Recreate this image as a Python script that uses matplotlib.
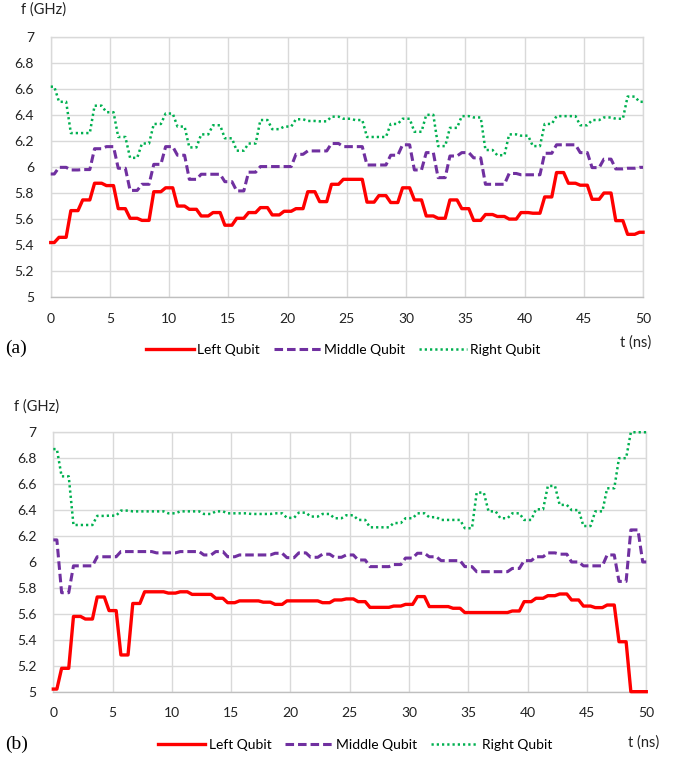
import numpy as np
import matplotlib
matplotlib.use("Agg")
import matplotlib.pyplot as plt

plt.rcParams['font.family'] = ['Lato', 'DejaVu Sans']

# ---------------- data (one value per ns, t = 0 ... 50) ----------------
time_ns = np.arange(0, 51)

a_left = [5.42, 5.46, 5.665, 5.747, 5.875, 5.857, 5.68, 5.606, 5.59, 5.81,
          5.84, 5.70, 5.675, 5.624, 5.65, 5.553, 5.606, 5.65, 5.688, 5.632,
          5.66, 5.68, 5.81, 5.734, 5.867, 5.905, 5.905, 5.73, 5.78, 5.727,
          5.84, 5.747, 5.624, 5.606, 5.747, 5.68, 5.59, 5.635, 5.62, 5.60,
          5.65, 5.645, 5.77, 5.957, 5.875, 5.86, 5.752, 5.80, 5.588, 5.483,
          5.499]
a_middle = [5.946, 5.997, 5.977, 5.98, 6.14, 6.156, 5.99, 5.82, 5.867, 6.02,
            6.156, 6.09, 5.905, 5.944, 5.944, 5.887, 5.816, 5.96, 6.003, 6.003,
            6.003, 6.097, 6.123, 6.123, 6.18, 6.156, 6.156, 6.015, 6.015, 6.09,
            6.17, 5.977, 6.11, 5.918, 6.084, 6.11, 6.07, 5.867, 5.867, 5.95,
            5.94, 5.94, 6.105, 6.17, 6.17, 6.11, 5.995, 6.06, 5.985, 5.99,
            5.997]
a_right = [6.616, 6.50, 6.26, 6.26, 6.47, 6.42, 6.23, 6.07, 6.18, 6.33,
           6.41, 6.31, 6.15, 6.25, 6.32, 6.22, 6.125, 6.18, 6.36, 6.29,
           6.31, 6.366, 6.353, 6.35, 6.386, 6.37, 6.36, 6.23, 6.23, 6.33,
           6.37, 6.27, 6.40, 6.16, 6.30, 6.39, 6.38, 6.13, 6.09, 6.25,
           6.24, 6.16, 6.33, 6.39, 6.39, 6.32, 6.36, 6.38, 6.37, 6.54,
           6.50]

b_left = [5.02, 5.18, 5.58, 5.56, 5.73, 5.625, 5.283, 5.68, 5.77, 5.77,
          5.76, 5.77, 5.75, 5.75, 5.72, 5.686, 5.70, 5.70, 5.69, 5.673,
          5.70, 5.70, 5.70, 5.686, 5.707, 5.715, 5.694, 5.65, 5.65, 5.66,
          5.673, 5.733, 5.656, 5.656, 5.643, 5.61, 5.61, 5.61, 5.61, 5.622,
          5.694, 5.72, 5.74, 5.753, 5.707, 5.66, 5.648, 5.668, 5.385, 5.0,
          5.0]
b_middle = [6.17, 5.763, 5.97, 5.97, 6.04, 6.04, 6.08, 6.08, 6.08, 6.07,
            6.07, 6.08, 6.08, 6.054, 6.08, 6.04, 6.054, 6.054, 6.054, 6.067,
            6.033, 6.07, 6.036, 6.06, 6.036, 6.054, 6.015, 5.964, 5.964, 5.98,
            6.03, 6.067, 6.04, 6.01, 6.01, 5.964, 5.925, 5.925, 5.925, 5.95,
            6.01, 6.04, 6.07, 6.06, 6.0, 5.97, 5.97, 6.054, 5.85, 6.247,
            6.0]
b_right = [6.87, 6.66, 6.285, 6.285, 6.355, 6.357, 6.396, 6.39, 6.39, 6.39,
           6.375, 6.39, 6.39, 6.37, 6.39, 6.375, 6.375, 6.37, 6.37, 6.375,
           6.34, 6.38, 6.35, 6.37, 6.337, 6.36, 6.324, 6.267, 6.267, 6.30,
           6.337, 6.375, 6.345, 6.324, 6.324, 6.26, 6.535, 6.39, 6.337, 6.375,
           6.324, 6.406, 6.586, 6.44, 6.40, 6.277, 6.39, 6.568, 6.80, 7.0,
           7.0]

series_names = ["Left Qubit", "Middle Qubit", "Right Qubit"]
x_ticks = [0, 5, 10, 15, 20, 25, 30, 35, 40, 45, 50]
y_ticks = [5, 5.2, 5.4, 5.6, 5.8, 6, 6.2, 6.4, 6.6, 6.8, 7]
y_tick_labels = ["5", "5.2", "5.4", "5.6", "5.8", "6", "6.2", "6.4", "6.6", "6.8", "7"]

# ---------------- styles ----------------
colors = ["#FF0000", "#7030A0", "#00B050"]
styles = [dict(lw=2.4, ls="-"),
          dict(lw=2.2, ls=(0, (2.8, 1.3))),
          dict(lw=1.8, ls=(0, (0.9, 1.2)))]
GRID = "#d9d9d9"


def stepped(t, levels, w=0.2):
    """Held level per ns, centred on each sample, with short ramps between."""
    t = np.asarray(t, float)
    v = np.asarray(levels, float)
    n = len(t)
    xs, ys = [], []
    for k in range(n):
        a = t[0] if k == 0 else (t[k - 1] + t[k]) / 2 + w
        b = t[-1] if k == n - 1 else (t[k] + t[k + 1]) / 2 - w
        xs += [a, b]
        ys += [v[k], v[k]]
    return np.array(xs), np.array(ys)


fig = plt.figure(figsize=(6.8, 7.57), dpi=100)
ax_a = fig.add_axes([0.0746, 0.6073, 0.871, 0.3443])
ax_b = fig.add_axes([0.0784, 0.0863, 0.872, 0.3427])

panels = [(ax_a, [a_left, a_middle, a_right]),
          (ax_b, [b_left, b_middle, b_right])]

for ax, data in panels:
    for vals, col, st, name in zip(data, colors, styles, series_names):
        xs, ys = stepped(time_ns, vals)
        ax.plot(xs, ys, color=col, lw=st["lw"], ls=st["ls"],
                label=name, clip_on=False, zorder=3,
                solid_joinstyle="round")
    ax.set_xlim(0, 50)
    ax.set_ylim(5, 7)
    ax.set_xticks(x_ticks)
    ax.set_xticklabels([str(v) for v in x_ticks])
    ax.set_yticks(y_ticks)
    ax.set_yticklabels(y_tick_labels)
    ax.grid(True, color=GRID, lw=1.0)
    ax.set_axisbelow(True)
    for s in ["top", "right", "left"]:
        ax.spines[s].set_color(GRID)
        ax.spines[s].set_linewidth(1.0)
    ax.spines["bottom"].set_color("#bfbfbf")
    ax.spines["bottom"].set_linewidth(1.0)
    ax.tick_params(axis="both", length=0, labelsize=10, colors="#222222")
    ax.tick_params(axis="x", pad=11)
    ax.tick_params(axis="y", pad=12)

# legends
for ax, y in [(ax_a, 0.5376), (ax_b, 0.0165)]:
    cx = 0.505 if ax is ax_a else 0.522
    fig.legend(handles=ax.get_lines(), labels=series_names, loc="center",
               bbox_to_anchor=(cx, y), ncol=3, frameon=False, fontsize=10,
               handlelength=3.4, handletextpad=0.25, columnspacing=1.0,
               borderpad=0.0)

# axis titles / panel labels
fig.text(0.0647, 0.987, "f (GHz)", ha="center", va="center", fontsize=10.5, color="#222222")
fig.text(0.0544, 0.4624, "f (GHz)", ha="center", va="center", fontsize=10.5, color="#222222")
fig.text(0.935, 0.547, "t (ns)", ha="center", va="center", fontsize=10.5, color="#222222")
fig.text(0.947, 0.0185, "t (ns)", ha="center", va="center", fontsize=10.5, color="#222222")
fig.text(0.024, 0.540, "(a)", ha="center", va="center", fontsize=14,
         family=["Liberation Serif", "DejaVu Serif"])
fig.text(0.024, 0.0165, "(b)", ha="center", va="center", fontsize=14,
         family=["Liberation Serif", "DejaVu Serif"])

fig.savefig("out.png", dpi=100)
